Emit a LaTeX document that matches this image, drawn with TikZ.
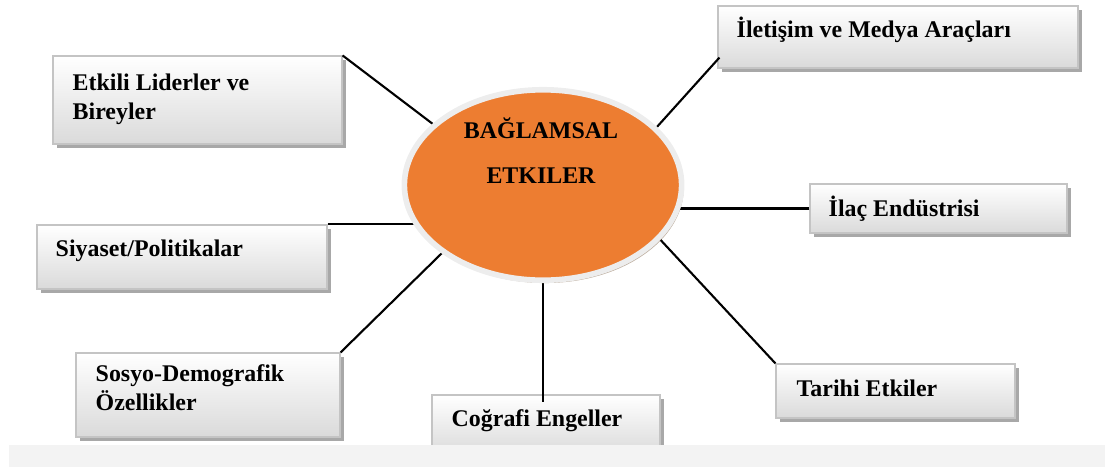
\documentclass[tikz,border=0pt]{standalone}
\usepackage{fontspec}
\setmainfont{Liberation Serif}
\usetikzlibrary{shapes.geometric,shadows,fit,calc}
\definecolor{coreorange}{HTML}{ED7D31}
\definecolor{boxline}{HTML}{C4C4C4}
\definecolor{boxshade}{HTML}{DADADA}
\definecolor{boxshadow}{HTML}{A8A8A8}
\definecolor{stripgray}{HTML}{F3F3F3}
\pgfdeclarelayer{front}
\pgfsetlayers{main,front}
\tikzset{
  infobox/.style={rectangle, draw=boxline, line width=0.8pt, inner sep=0pt,
    top color=white, bottom color=boxshade,
    drop shadow={shadow xshift=2.8pt, shadow yshift=-2.8pt, fill=boxshadow, opacity=1}},
  boxtext/.style={font=\bfseries\fontsize{17}{20.5}\selectfont, inner sep=0pt,
    anchor=base west, align=left},
  coretext/.style={font=\bfseries\fontsize{17}{32}\selectfont, inner sep=0pt, align=center},
  link/.style={draw=black, line width=1.5pt},
}
\begin{document}
\begin{tikzpicture}[x=0.025cm, y=-0.025cm]
\useasboundingbox (0,0) rectangle (1106,467);

% boxes
\node[infobox, fit={(53,56) (342,144)}] (lider) {};
\node[infobox, fit={(718,6) (1078,68)}] (iletisim) {};
\node[infobox, fit={(37,225) (327,289)}] (siyaset) {};
\node[infobox, fit={(810,184) (1067,233)}] (ilac) {};
\node[infobox, fit={(76,353) (340,437)}] (sosyo) {};
\node[infobox, fit={(432,395) (660,455)}] (cografi) {};
\node[infobox, fit={(776,364) (1015,418)}] (tarihi) {};

% labels (base = last line)
\node[boxtext] (liderlbl) at ($(lider.north west)+(20,64)$) {Etkili Liderler ve\\Bireyler};
\node[boxtext] (iletisimlbl) at ($(iletisim.north west)+(19,32)$) {İletişim ve Medya Araçları};
\node[boxtext] (siyasetlbl) at ($(siyaset.north west)+(19,32)$) {Siyaset/Politikalar};
\node[boxtext] (ilaclbl) at ($(ilac.north west)+(19,33)$) {İlaç Endüstrisi};
\node[boxtext] (sosyolbl) at ($(sosyo.north west)+(20,58)$) {Sosyo-Demografik\\Özellikler};
\node[boxtext] (cografilbl) at ($(cografi.north west)+(20,32)$) {Coğrafi Engeller};
\node[boxtext] (tarihilbl) at ($(tarihi.north west)+(21,33)$) {Tarihi Etkiler};

% centre
\begin{pgfonlayer}{front}
  \node[ellipse, minimum width=6.93cm, minimum height=4.76cm, fill=coreorange,
    draw=white!93!black, line width=4pt,
    drop shadow={shadow xshift=1.5pt, shadow yshift=-2pt, fill=black!45!brown, opacity=.45}]
    (core) at (543,185) {};
  \node[coretext] (corelbl) at (541,151) {BAĞLAMSAL\\ETKILER};
\end{pgfonlayer}

% connectors
\draw[link] (lider.north east) -- (core.151);
\draw[link] ($(iletisim.south west)+(2,-11)$) -- (core.27);
\draw[link] (siyaset.north east) -- (siyaset.north east -| core.center);
\draw[link] (ilac.west) -- (ilac.west -| core.center);
\draw[link] (sosyo.north east) -- (core.214);
\draw[link] (core.center) -- ($(core.center |- cografi.north)+(0,8)$);
\draw[link] (tarihi.north west) -- (core.335);

% bottom strip
\fill[stripgray] (9,445) rectangle (1105,467);
\end{tikzpicture}
\end{document}
